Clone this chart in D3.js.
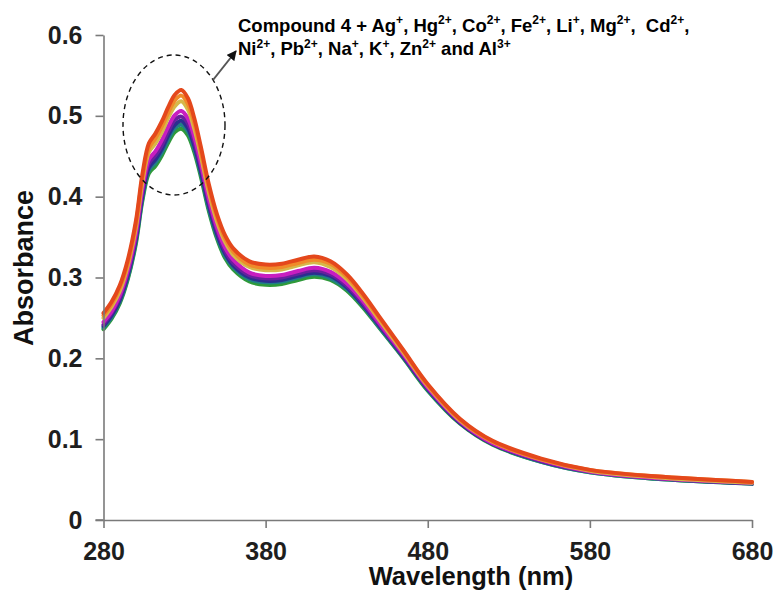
<!DOCTYPE html>
<html>
<head>
<meta charset="utf-8">
<script src="https://cdn.jsdelivr.net/npm/d3@7/dist/d3.min.js"></script>
<style>
  html, body { margin: 0; padding: 0; background: #fff; }
  svg { display: block; }
  text { font-family: Arial, "Liberation Sans", sans-serif; }
</style>
</head>
<body>
<svg id="chart" width="777" height="594"></svg>
<script>
// ---------- data ----------
const wavelengths = [280,285,290,295,300,304,308,312,316,320,324,328,332,336,340,345,350,355,360,370,380,390,400,410,420,430,440,450,465,480,500,520,550,580,620,680];

const absRed     = [0.256,0.270,0.290,0.322,0.370,0.428,0.466,0.478,0.493,0.511,0.526,0.532,0.522,0.497,0.462,0.415,0.378,0.352,0.336,0.320,0.316,0.317,0.322,0.326,0.320,0.304,0.280,0.252,0.210,0.168,0.125,0.098,0.076,0.062,0.054,0.047];
const absOrange  = [0.253,0.267,0.287,0.318,0.366,0.423,0.460,0.472,0.487,0.504,0.519,0.525,0.515,0.491,0.456,0.410,0.374,0.348,0.332,0.316,0.312,0.313,0.318,0.322,0.317,0.301,0.277,0.250,0.209,0.167,0.124,0.097,0.075,0.062,0.054,0.047];
const absKhaki   = [0.250,0.264,0.283,0.315,0.362,0.418,0.455,0.466,0.480,0.498,0.512,0.518,0.508,0.484,0.451,0.405,0.369,0.344,0.328,0.313,0.309,0.310,0.315,0.319,0.313,0.298,0.275,0.248,0.207,0.166,0.123,0.097,0.075,0.061,0.053,0.046];
const absMagenta = [0.245,0.258,0.278,0.309,0.355,0.410,0.446,0.456,0.470,0.487,0.501,0.506,0.497,0.474,0.442,0.397,0.362,0.337,0.322,0.306,0.302,0.303,0.308,0.312,0.307,0.293,0.271,0.244,0.205,0.164,0.122,0.095,0.074,0.060,0.052,0.046];
const absPurple  = [0.242,0.256,0.275,0.306,0.351,0.406,0.441,0.451,0.464,0.481,0.495,0.499,0.491,0.468,0.437,0.393,0.358,0.333,0.318,0.303,0.299,0.300,0.305,0.309,0.304,0.290,0.268,0.242,0.203,0.163,0.121,0.095,0.073,0.060,0.052,0.046];
const absNavy    = [0.240,0.253,0.272,0.303,0.348,0.402,0.436,0.446,0.459,0.476,0.489,0.494,0.485,0.463,0.432,0.389,0.354,0.330,0.315,0.300,0.296,0.297,0.302,0.306,0.302,0.288,0.266,0.241,0.202,0.162,0.120,0.094,0.073,0.060,0.052,0.045];
const absTeal    = [0.238,0.251,0.270,0.300,0.345,0.398,0.433,0.442,0.455,0.471,0.485,0.489,0.481,0.459,0.429,0.385,0.351,0.327,0.313,0.298,0.294,0.295,0.300,0.304,0.299,0.286,0.265,0.239,0.201,0.161,0.120,0.094,0.072,0.059,0.051,0.045];
const absGreen   = [0.236,0.249,0.268,0.298,0.342,0.395,0.429,0.438,0.451,0.467,0.480,0.484,0.476,0.455,0.425,0.382,0.348,0.324,0.310,0.295,0.291,0.292,0.297,0.301,0.297,0.284,0.263,0.238,0.200,0.160,0.119,0.093,0.072,0.059,0.051,0.045];

const xTicks = [280, 380, 480, 580, 680];
const yTicks = [0, 0.1, 0.2, 0.3, 0.4, 0.5, 0.6];

// drawn bottom-first so the top curve lies on top
const seriesList = [
  { values: absGreen,   color: "#2f9a3a" },
  { values: absTeal,    color: "#1f7f86" },
  { values: absNavy,    color: "#2b2f8f" },
  { values: absPurple,  color: "#6a1f9e" },
  { values: absMagenta, color: "#c81ec0" },
  { values: absKhaki,   color: "#d6b84a" },
  { values: absOrange,  color: "#f08a2a" },
  { values: absRed,     color: "#e4481c" }
];

// ---------- layout ----------
const svg = d3.select("#chart");
const x = d3.scaleLinear().domain([280, 680]).range([103.5, 752]);
const y = d3.scaleLinear().domain([0, 0.6]).range([520, 35]);
const axisColor = "#7a7a7a";
const labelFont = "bold 25px Arial, 'Liberation Sans', sans-serif";

// curves
const line = d3.line()
  .x((d, i) => x(wavelengths[i]))
  .y(d => y(d))
  .curve(d3.curveCatmullRom.alpha(0.5));

svg.append("g").selectAll("path")
  .data(seriesList)
  .join("path")
  .attr("d", d => line(d.values))
  .attr("fill", "none")
  .attr("stroke", d => d.color)
  .attr("stroke-width", 4)
  .attr("stroke-linejoin", "round")
  .attr("stroke-linecap", "round");

// axes
const xAxis = svg.append("g")
  .attr("transform", "translate(0,520)")
  .call(d3.axisBottom(x).tickValues(xTicks).tickFormat(d3.format("d")).tickSize(8).tickPadding(14).tickSizeOuter(0));
const yAxis = svg.append("g")
  .attr("transform", `translate(${x(280)},0)`)
  .call(d3.axisLeft(y).tickValues(yTicks).tickFormat(d => d === 0 ? "0" : d3.format(".1f")(d)).tickSize(8).tickPadding(13).tickSizeOuter(0));

[xAxis, yAxis].forEach(g => {
  g.select(".domain").attr("stroke", axisColor).attr("stroke-width", 1.6);
  g.selectAll(".tick line").attr("stroke", axisColor).attr("stroke-width", 1.6);
  g.selectAll(".tick text").style("font", labelFont).attr("fill", "#1e1e1e");
});
// small extension of the x axis line to the left of the y axis
svg.append("line")
  .attr("x1", x(280) - 8).attr("x2", x(280))
  .attr("y1", y(0)).attr("y2", y(0))
  .attr("stroke", axisColor).attr("stroke-width", 1.6);

// axis titles
svg.append("text")
  .attr("x", 471).attr("y", 585)
  .attr("text-anchor", "middle")
  .style("font", "bold 25.5px Arial, 'Liberation Sans', sans-serif")
  .attr("fill", "#111")
  .text("Wavelength (nm)");

svg.append("text")
  .attr("transform", "translate(33,268) rotate(-90)")
  .attr("text-anchor", "middle")
  .style("font", "bold 27px Arial, 'Liberation Sans', sans-serif")
  .attr("fill", "#111")
  .text("Absorbance");

// dashed ellipse around the peak
svg.append("ellipse")
  .attr("cx", 174).attr("cy", 125).attr("rx", 51).attr("ry", 70)
  .attr("fill", "none")
  .attr("stroke", "#111")
  .attr("stroke-width", 1.4)
  .attr("stroke-dasharray", "5,4");

// arrow
const defs = svg.append("defs");
defs.append("marker")
  .attr("id", "arrowhead")
  .attr("viewBox", "0 0 10 10")
  .attr("refX", 9).attr("refY", 5)
  .attr("markerWidth", 5).attr("markerHeight", 5)
  .attr("markerUnits", "strokeWidth")
  .attr("orient", "auto")
  .append("path")
  .attr("d", "M0,0 L10,5 L0,10 Z")
  .attr("fill", "#111");
svg.append("line")
  .attr("x1", 213).attr("y1", 80)
  .attr("x2", 236).attr("y2", 51)
  .attr("stroke", "#555")
  .attr("stroke-width", 2)
  .attr("marker-end", "url(#arrowhead)");

// annotation
const annLine1 = ["Compound 4 + Ag","+",", Hg","2+",", Co","2+",", Fe","2+",", Li","+",", Mg","2+",",\u00a0 Cd","2+",","];
const annLine2 = ["Ni","2+",", Pb","2+",", Na","+",", K","+",", Zn","2+"," and Al","3+"];

function annotate(parts, yPos) {
  const t = svg.append("text")
    .attr("x", 238).attr("y", yPos)
    .style("font-weight", "bold")
    .style("font-size", "18.5px")
    .attr("fill", "#000");
  parts.forEach((s, i) => {
    const isSup = /^[0-9]?[+]$/.test(s);
    t.append("tspan")
      .attr("dy", isSup ? -7.5 : (i > 0 ? 7.5 : 0))
      .style("font-size", isSup ? "12px" : "18.5px")
      .text(s);
  });
}
annotate(annLine1, 31.5);
annotate(annLine2, 55);
</script>
</body>
</html>
